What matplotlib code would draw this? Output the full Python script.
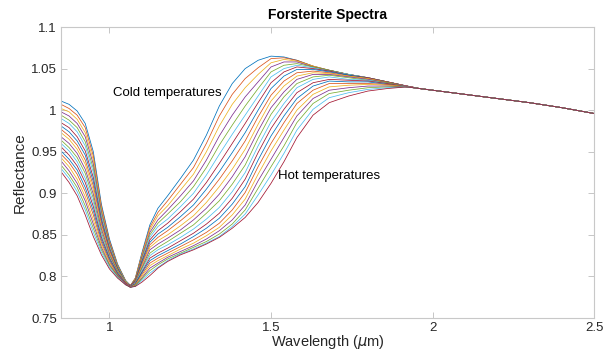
"""
forsterite reflectance spectra at different temperatures
"""

import numpy as np
import matplotlib
matplotlib.use('Agg')
from matplotlib import pyplot as plt
from matplotlib.ticker import FixedLocator, FixedFormatter

# wavelengths (um) where the spectra still differ from each other
band_wl = [0.85, 0.875, 0.90, 0.925, 0.95, 0.975, 1.00, 1.025, 1.05, 1.065, 1.08,
           1.10, 1.125, 1.15, 1.18, 1.22, 1.26, 1.30, 1.34, 1.38, 1.42, 1.46,
           1.50, 1.54, 1.58, 1.63, 1.68, 1.74, 1.80, 1.86, 1.92]

# reflectance, one row per wavelength,
# one column per spectrum going from the coldest to the hottest
band_refl = [
    [1.011, 1.007, 1.002, 0.998, 0.994, 0.990, 0.985, 0.981, 0.977, 0.973, 0.968, 0.964, 0.960, 0.956, 0.951, 0.947, 0.943, 0.939, 0.934, 0.930, 0.926],
    [1.007, 1.002, 0.998, 0.993, 0.988, 0.984, 0.979, 0.974, 0.969, 0.965, 0.960, 0.955, 0.951, 0.946, 0.941, 0.937, 0.932, 0.927, 0.922, 0.918, 0.913],
    [0.999, 0.994, 0.989, 0.984, 0.979, 0.974, 0.968, 0.963, 0.958, 0.953, 0.948, 0.943, 0.938, 0.933, 0.928, 0.923, 0.917, 0.912, 0.907, 0.902, 0.897],
    [0.984, 0.979, 0.973, 0.968, 0.962, 0.957, 0.951, 0.946, 0.940, 0.935, 0.929, 0.924, 0.918, 0.913, 0.907, 0.902, 0.896, 0.891, 0.885, 0.880, 0.874],
    [0.950, 0.945, 0.940, 0.935, 0.930, 0.925, 0.919, 0.914, 0.909, 0.904, 0.899, 0.894, 0.889, 0.884, 0.879, 0.874, 0.868, 0.863, 0.858, 0.853, 0.848],
    [0.887, 0.884, 0.881, 0.878, 0.875, 0.872, 0.869, 0.866, 0.863, 0.860, 0.857, 0.853, 0.850, 0.847, 0.844, 0.841, 0.838, 0.835, 0.832, 0.829, 0.826],
    [0.845, 0.843, 0.841, 0.840, 0.838, 0.836, 0.834, 0.832, 0.831, 0.829, 0.827, 0.825, 0.823, 0.822, 0.820, 0.818, 0.816, 0.814, 0.813, 0.811, 0.809],
    [0.815, 0.814, 0.813, 0.812, 0.812, 0.811, 0.810, 0.809, 0.808, 0.807, 0.806, 0.806, 0.805, 0.804, 0.803, 0.802, 0.801, 0.801, 0.800, 0.799, 0.798],
    [0.795, 0.795, 0.794, 0.794, 0.794, 0.794, 0.793, 0.793, 0.793, 0.793, 0.792, 0.792, 0.792, 0.792, 0.791, 0.791, 0.791, 0.791, 0.790, 0.790, 0.790],
    [0.789, 0.789, 0.789, 0.789, 0.789, 0.789, 0.789, 0.788, 0.788, 0.788, 0.788, 0.788, 0.788, 0.788, 0.787, 0.787, 0.787, 0.787, 0.787, 0.787, 0.787],
    [0.798, 0.798, 0.797, 0.796, 0.796, 0.795, 0.795, 0.794, 0.794, 0.793, 0.793, 0.792, 0.792, 0.791, 0.791, 0.790, 0.790, 0.789, 0.789, 0.788, 0.788],
    [0.828, 0.826, 0.825, 0.823, 0.821, 0.819, 0.818, 0.816, 0.814, 0.812, 0.810, 0.809, 0.807, 0.805, 0.804, 0.802, 0.800, 0.798, 0.797, 0.795, 0.793],
    [0.862, 0.859, 0.856, 0.853, 0.850, 0.847, 0.844, 0.841, 0.838, 0.835, 0.832, 0.828, 0.825, 0.822, 0.819, 0.816, 0.813, 0.810, 0.807, 0.804, 0.801],
    [0.882, 0.877, 0.873, 0.868, 0.864, 0.860, 0.855, 0.851, 0.847, 0.843, 0.839, 0.835, 0.832, 0.828, 0.825, 0.822, 0.819, 0.816, 0.814, 0.811, 0.810],
    [0.897, 0.891, 0.885, 0.880, 0.875, 0.869, 0.864, 0.859, 0.855, 0.850, 0.846, 0.842, 0.838, 0.834, 0.831, 0.828, 0.825, 0.823, 0.821, 0.819, 0.818],
    [0.918, 0.911, 0.904, 0.897, 0.890, 0.884, 0.878, 0.872, 0.867, 0.861, 0.856, 0.852, 0.847, 0.843, 0.839, 0.836, 0.833, 0.830, 0.828, 0.827, 0.826],
    [0.940, 0.931, 0.923, 0.915, 0.908, 0.900, 0.893, 0.886, 0.880, 0.873, 0.868, 0.862, 0.857, 0.852, 0.848, 0.844, 0.840, 0.837, 0.835, 0.833, 0.832],
    [0.970, 0.960, 0.950, 0.940, 0.931, 0.922, 0.913, 0.905, 0.897, 0.889, 0.882, 0.876, 0.869, 0.863, 0.858, 0.853, 0.849, 0.845, 0.842, 0.840, 0.839],
    [1.005, 0.993, 0.981, 0.969, 0.958, 0.947, 0.936, 0.926, 0.917, 0.908, 0.899, 0.891, 0.883, 0.876, 0.870, 0.864, 0.859, 0.855, 0.851, 0.848, 0.847],
    [1.032, 1.019, 1.007, 0.994, 0.982, 0.971, 0.960, 0.949, 0.939, 0.929, 0.920, 0.911, 0.902, 0.894, 0.887, 0.880, 0.874, 0.868, 0.863, 0.860, 0.858],
    [1.050, 1.038, 1.027, 1.016, 1.005, 0.994, 0.984, 0.973, 0.963, 0.953, 0.944, 0.934, 0.925, 0.917, 0.908, 0.901, 0.893, 0.886, 0.880, 0.875, 0.871],
    [1.060, 1.051, 1.043, 1.034, 1.026, 1.017, 1.009, 1.000, 0.992, 0.983, 0.975, 0.966, 0.957, 0.949, 0.940, 0.932, 0.923, 0.915, 0.906, 0.898, 0.889],
    [1.065, 1.062, 1.057, 1.052, 1.046, 1.040, 1.033, 1.026, 1.018, 1.011, 1.003, 0.995, 0.986, 0.978, 0.969, 0.960, 0.951, 0.941, 0.932, 0.922, 0.912],
    [1.064, 1.063, 1.061, 1.058, 1.054, 1.050, 1.046, 1.041, 1.035, 1.029, 1.022, 1.016, 1.008, 1.001, 0.993, 0.985, 0.976, 0.967, 0.957, 0.948, 0.938],
    [1.060, 1.060, 1.059, 1.058, 1.056, 1.054, 1.052, 1.049, 1.045, 1.041, 1.037, 1.032, 1.027, 1.021, 1.014, 1.008, 1.000, 0.993, 0.985, 0.976, 0.967],
    [1.053, 1.053, 1.053, 1.052, 1.052, 1.051, 1.050, 1.049, 1.047, 1.045, 1.043, 1.040, 1.037, 1.033, 1.029, 1.024, 1.019, 1.014, 1.008, 1.001, 0.994],
    [1.048, 1.048, 1.048, 1.048, 1.048, 1.047, 1.047, 1.046, 1.045, 1.044, 1.043, 1.042, 1.040, 1.037, 1.035, 1.032, 1.028, 1.024, 1.020, 1.015, 1.009],
    [1.043, 1.043, 1.043, 1.043, 1.043, 1.043, 1.042, 1.042, 1.041, 1.041, 1.040, 1.039, 1.037, 1.036, 1.034, 1.032, 1.030, 1.027, 1.024, 1.021, 1.017],
    [1.039, 1.039, 1.039, 1.039, 1.039, 1.039, 1.039, 1.038, 1.038, 1.038, 1.037, 1.036, 1.036, 1.035, 1.034, 1.032, 1.031, 1.029, 1.027, 1.025, 1.023],
    [1.034, 1.034, 1.034, 1.034, 1.034, 1.034, 1.034, 1.034, 1.034, 1.033, 1.033, 1.033, 1.032, 1.032, 1.031, 1.031, 1.030, 1.029, 1.028, 1.027, 1.026],
    [1.029, 1.029, 1.029, 1.029, 1.029, 1.029, 1.029, 1.029, 1.029, 1.029, 1.029, 1.028, 1.028, 1.028, 1.028, 1.028, 1.028, 1.028, 1.028, 1.028, 1.028],
]

# long wavelength part where all the spectra lie on top of each other
tail_wl = [1.96, 2.00, 2.10, 2.20, 2.30, 2.40, 2.50]
tail_refl = [1.026, 1.024, 1.019, 1.014, 1.009, 1.003, 0.996]

x_ticks = [1, 1.5, 2, 2.5]
x_tick_labels = ['1', '1.5', '2', '2.5']
y_ticks = [0.75, 0.8, 0.85, 0.9, 0.95, 1, 1.05, 1.1]
y_tick_labels = ['0.75', '0.8', '0.85', '0.9', '0.95', '1', '1.05', '1.1']

# matlab default line colours
MATLAB_COLORS = ['#0072BD', '#D95319', '#EDB120', '#7E2F8E', '#77AC30', '#4DBEEE', '#A2142F']

plt.rcParams['font.family'] = ['Liberation Sans', 'DejaVu Sans']

# build the full spectra
band = np.array(band_refl)
n_spectra = band.shape[1]
tail = np.repeat(np.array(tail_refl)[:, None], n_spectra, axis=1)
wavelength = np.array(band_wl + tail_wl)
reflectance = np.vstack([band, tail])

fig = plt.figure(figsize=(6.1, 3.51), dpi=100)
ax = fig.add_axes([0.100, 0.094, 0.874, 0.829])
ax.set_prop_cycle(color=MATLAB_COLORS)
ax.plot(wavelength, reflectance, lw=0.55)

ax.set_xlim(0.85, 2.5)
ax.set_ylim(0.75, 1.1)
ax.xaxis.set_major_locator(FixedLocator(x_ticks))
ax.xaxis.set_major_formatter(FixedFormatter(x_tick_labels))
ax.yaxis.set_major_locator(FixedLocator(y_ticks))
ax.yaxis.set_major_formatter(FixedFormatter(y_tick_labels))
ax.tick_params(direction='in', length=4, width=0.6, color='#bdbdbd',
               labelcolor='#262626', labelsize=9.5, top=True, right=True, pad=3)
for spine in ax.spines.values():
    spine.set_color('#c8c8c8')
    spine.set_linewidth(0.8)

ax.set_title('Forsterite Spectra', fontsize=10, fontweight='bold', pad=6)
ax.set_xlabel('Wavelength ($\\mu$m)', fontsize=10.5, color='#262626')
ax.xaxis.set_label_coords(0.5, -0.052)
ax.set_ylabel('Reflectance', fontsize=11, color='#262626', labelpad=3)

ax.text(1.012, 1.021, 'Cold temperatures', fontsize=9.5, va='center')
ax.text(1.522, 0.921, 'Hot temperatures', fontsize=9.5, va='center')

plt.savefig('out.png', dpi=100)
